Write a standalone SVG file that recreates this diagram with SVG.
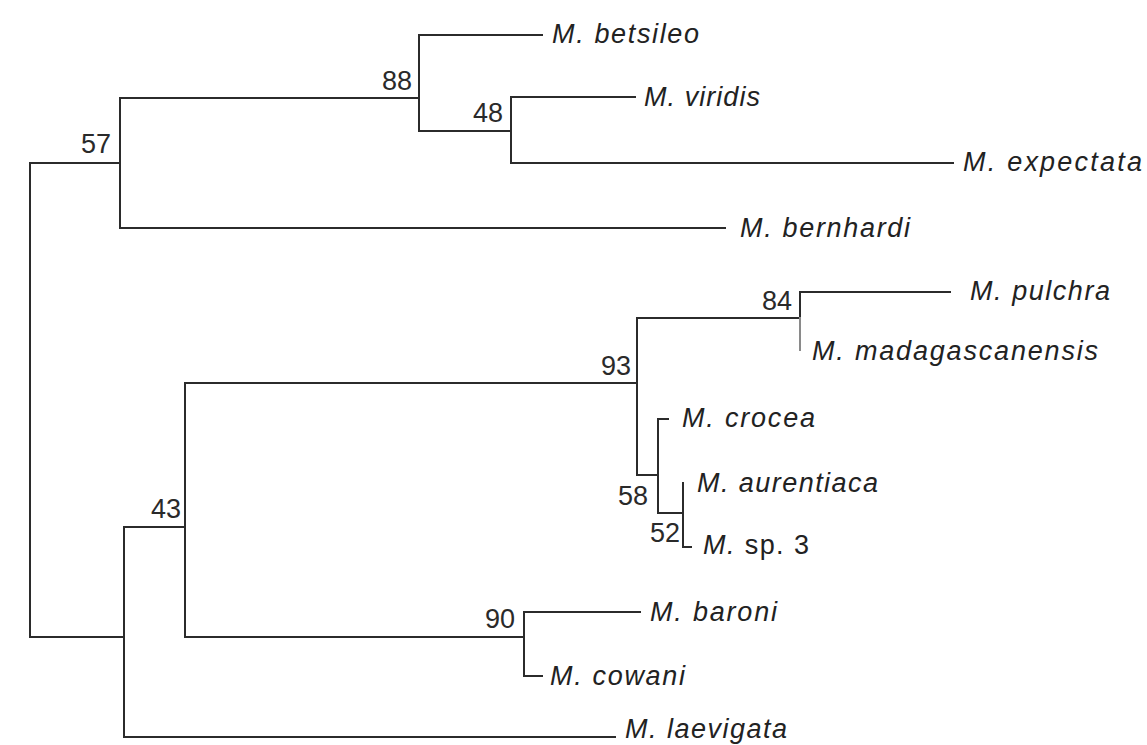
<svg xmlns="http://www.w3.org/2000/svg" width="1147" height="745" viewBox="0 0 1147 745">
<style>
.br{fill:none;stroke:#2b2b2b;stroke-width:2;stroke-linecap:square}
.lt{stroke:#8a8a8a}
.tx{font-family:"Liberation Sans",Arial,sans-serif;font-size:27px;font-style:italic;fill:#222}
.up{font-style:normal}
.bs{font-family:"Liberation Sans",Arial,sans-serif;font-size:27px;fill:#2a2a2a;text-anchor:end}
</style>
<rect width="1147" height="745" fill="#ffffff"/>
<g id="connectors">
<path class="br" d="M30,163 V637 M30,163 H120 M30,637 H124"/>
<path class="br" d="M120,98 V228 M120,98 H419 M120,228 H725"/>
<path class="br" d="M419,35 V131 M419,35 H542 M419,131 H511"/>
<path class="br" d="M511,97 V163 M511,97 H635 M511,163 H953"/>
<path class="br" d="M124,527 V737 M124,527 H185 M124,737 H615"/>
<path class="br" d="M185,383 V637 M185,383 H637 M185,637 H524"/>
<path class="br" d="M637,318 V475 M637,318 H800 M637,475 H658"/>
<path class="br" d="M800,292 H950 M800,292 V318"/>
<path class="br lt" d="M800,318 V350"/>
<path class="br" d="M658,419 V513 M658,419 H668 M658,513 H683"/>
<path class="br" d="M683,483 V547 M683,547 H691"/>
<path class="br" d="M524,612 V676 M524,612 H640 M524,676 H542"/>
</g>
<g id="support">
<g id="s57"><text class="bs" x="111" y="153">57</text></g>
<g id="s88"><text class="bs" x="412" y="90">88</text></g>
<g id="s48"><text class="bs" x="503" y="122">48</text></g>
<g id="s84"><text class="bs" x="792" y="310">84</text></g>
<g id="s93"><text class="bs" x="631" y="375">93</text></g>
<g id="s43"><text class="bs" x="181" y="518">43</text></g>
<g id="s58"><text class="bs" x="648" y="505">58</text></g>
<g id="s52"><text class="bs" x="680" y="542">52</text></g>
<g id="s90"><text class="bs" x="515" y="628">90</text></g>
</g>
<g id="betsileo"><text class="tx" x="552" y="43" textLength="147" lengthAdjust="spacing">M. betsileo</text></g>
<g id="viridis"><text class="tx" x="644" y="106" textLength="116" lengthAdjust="spacing">M. viridis</text></g>
<g id="expectata"><text class="tx" x="963" y="171" textLength="179" lengthAdjust="spacing">M. expectata</text></g>
<g id="bernhardi"><text class="tx" x="740" y="237" textLength="170" lengthAdjust="spacing">M. bernhardi</text></g>
<g id="pulchra"><text class="tx" x="970" y="300" textLength="140" lengthAdjust="spacing">M. pulchra</text></g>
<g id="madagascanensis"><text class="tx" x="812" y="360" textLength="286" lengthAdjust="spacing">M. madagascanensis</text></g>
<g id="crocea"><text class="tx" x="682" y="427" textLength="133" lengthAdjust="spacing">M. crocea</text></g>
<g id="aurentiaca"><text class="tx" x="697" y="492" textLength="181" lengthAdjust="spacing">M. aurentiaca</text></g>
<g id="sp3"><text class="tx" x="703" y="554" textLength="106" lengthAdjust="spacing">M. <tspan class="up">sp. 3</tspan></text></g>
<g id="baroni"><text class="tx" x="650" y="621" textLength="127" lengthAdjust="spacing">M. baroni</text></g>
<g id="cowani"><text class="tx" x="550" y="685" textLength="135" lengthAdjust="spacing">M. cowani</text></g>
<g id="laevigata"><text class="tx" x="625" y="738" textLength="162" lengthAdjust="spacing">M. laevigata</text></g>
</svg>
